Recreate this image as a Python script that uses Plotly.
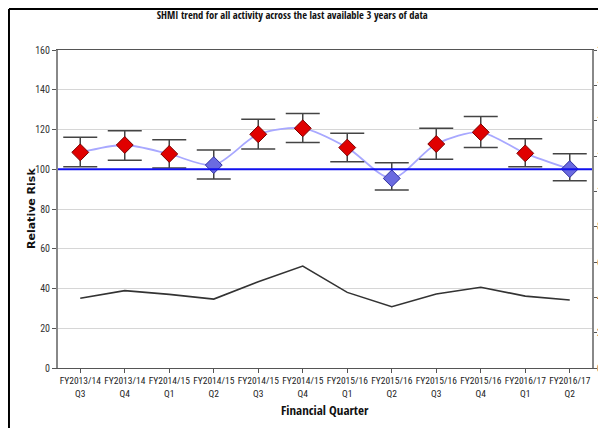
import plotly.graph_objects as go

quarters = ["FY2013/14<br>Q3", "FY2013/14<br>Q4", "FY2014/15<br>Q1", "FY2014/15<br>Q2",
            "FY2014/15<br>Q3", "FY2014/15<br>Q4", "FY2015/16<br>Q1", "FY2015/16<br>Q2",
            "FY2015/16<br>Q3", "FY2015/16<br>Q4", "FY2016/17<br>Q1", "FY2016/17<br>Q2"]
shmi = [108.5, 112.2, 107.7, 102.1, 117.6, 120.6, 110.9, 95.4, 112.7, 118.6, 108.0, 100.1]
upper = [116.1, 119.4, 114.9, 109.7, 125.1, 128.1, 118.1, 103.3, 120.6, 126.5, 115.4, 107.8]
lower = [101.3, 104.5, 100.6, 95.1, 110.2, 113.5, 103.8, 89.6, 105.0, 111.0, 101.3, 94.2]
secondary = [3.95, 4.38, 4.17, 3.9, 4.88, 5.77, 4.28, 3.47, 4.19, 4.57, 4.07, 3.85]
left_ticks = [0, 20, 40, 60, 80, 100, 120, 140, 160]
right_ticks = [0, 2, 4, 6, 8, 10, 12, 14, 16, 18]
reference = 100

xs = list(range(len(quarters)))
tick_font = "Roboto Condensed, DejaVu Sans Condensed, sans-serif"
bold_font = "Open Sans Condensed, DejaVu Sans Condensed, sans-serif"

marker_colors = ["#e00000" if lo > reference else "#6a6ae0" for lo in lower]
marker_lines = ["#7a0000" if lo > reference else "#3030a0" for lo in lower]

fig = go.Figure()

fig.add_trace(go.Scatter(
    x=xs, y=secondary, yaxis="y2", mode="lines",
    line=dict(color="#333333", width=1.6), hoverinfo="skip", showlegend=False))

fig.add_trace(go.Scatter(
    x=xs, y=shmi, mode="lines",
    line=dict(color="#a8a8ff", width=1.8, shape="spline", smoothing=0.8),
    showlegend=False))

fig.add_trace(go.Scatter(
    x=xs, y=shmi, mode="markers",
    marker=dict(symbol="diamond", size=13, color=marker_colors,
                line=dict(color=marker_lines, width=1)),
    error_y=dict(type="data", symmetric=False,
                 array=[u - v for u, v in zip(upper, shmi)],
                 arrayminus=[v - l for v, l in zip(shmi, lower)],
                 color="#444444", thickness=1.5, width=17),
    showlegend=False))

fig.add_shape(type="line", xref="paper", x0=0, x1=1, yref="y", y0=reference, y1=reference,
              line=dict(color="#1010ee", width=2), layer="above")

# outer frame of the picture
fig.add_shape(type="line", xref="paper", yref="paper", x0=-0.0918, x1=1.05, y0=1.129, y1=1.129,
              line=dict(color="black", width=2))
fig.add_shape(type="line", xref="paper", yref="paper", x0=-0.0918, x1=-0.0918, y0=1.129, y1=-0.25,
              line=dict(color="black", width=2))

fig.add_annotation(text="<b>Relative Risk</b>", xref="paper", yref="paper", x=0, y=0.5,
                   xshift=-27, textangle=-90, showarrow=False, xanchor="center", yanchor="middle",
                   font=dict(family="DejaVu Sans, sans-serif", size=11, color="#111111"))
fig.add_annotation(text="Financial Quarter", xref="paper", yref="paper", x=0.5, y=0,
                   yshift=-42, showarrow=False, xanchor="center", yanchor="middle",
                   font=dict(family=bold_font, size=13, color="#111111"))

fig.update_layout(
    width=606, height=428,
    margin=dict(l=50, r=22, t=42, b=68, autoexpand=False),
    paper_bgcolor="white", plot_bgcolor="white",
    font=dict(family=tick_font, size=10, color="#222222"),
    title=dict(text="SHMI trend for all activity across the last available 3 years of data",
               xref="container", x=0.469, xanchor="center", yref="container", y=0.984, yanchor="middle",
               font=dict(family=bold_font, size=10.5, color="#111111")),
    xaxis=dict(range=[-0.5, 11.5], tickmode="array", tickvals=xs, ticktext=quarters,
               tickangle=0, automargin=False,
               showgrid=False, zeroline=False, showline=True, linecolor="#555555", linewidth=1,
               mirror=True, ticks="outside", ticklen=4, tickcolor="#555555",
               tickfont=dict(family=tick_font, size=9.5, color="#222222")),
    yaxis=dict(range=[0, 160], tickmode="array", tickvals=left_ticks, automargin=False,
               showgrid=True, gridcolor="#d6d6d6", gridwidth=1, zeroline=False,
               showline=True, linecolor="#888888", linewidth=2,
               ticks="outside", ticklen=4, tickcolor="#555555",
               tickfont=dict(family=tick_font, size=10, color="#333333")),
    yaxis2=dict(range=[0, 18], tickmode="array", tickvals=right_ticks, overlaying="y", side="right",
                automargin=False, ticklabelstandoff=-2,
                showgrid=False, zeroline=False, showline=True, linecolor="#888888", linewidth=2,
                ticks="outside", ticklen=3, tickcolor="#555555",
                tickfont=dict(family=tick_font, size=10, color="#333333")),
)

fig.write_html("out.html")
